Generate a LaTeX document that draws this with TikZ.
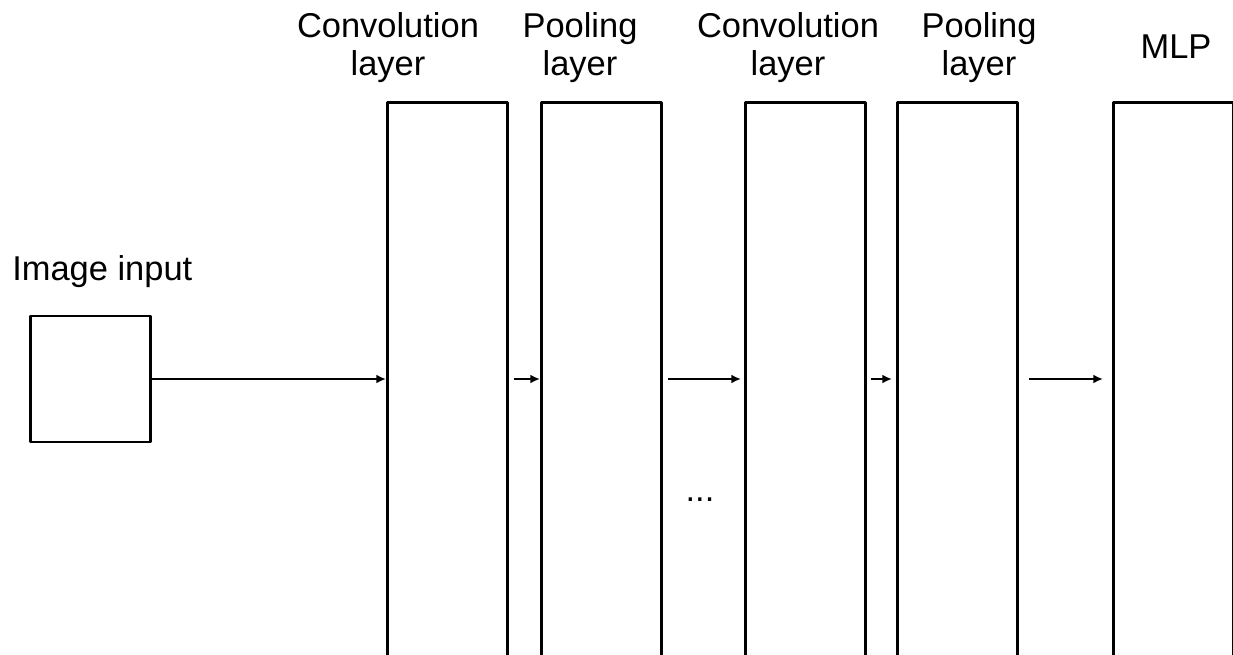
\documentclass[tikz,border=0pt]{standalone}
\usepackage{fontspec}
\setmainfont{Liberation Sans}
\usetikzlibrary{arrows.meta, positioning}

\tikzset{
  layerbox/.style={draw, line width=2pt, inner sep=0pt, anchor=north west,
    minimum width=3cm, minimum height=15cm},
  inputbox/.style={draw, line width=1.5pt, inner sep=0pt,
    minimum width=3cm, minimum height=3.15cm},
  caption/.style={inner sep=0pt, align=center, anchor=north,
    font=\fontsize{24.5pt}{27pt}\selectfont},
  flow/.style={line width=1.5pt, -{Latex[length=0.24cm, width=0.22cm]}}
}

\begin{document}
\begin{tikzpicture}[line join=round, x=0.025cm, y=-0.025cm]
  \clip (0,0) rectangle (1233,655);   % page frame, boxes run off the bottom

  % input
  \node[inputbox] (input) at (90.5,379) {};
  \node[caption, anchor=north west] (lblinput) at (12,255) {Image input};

  % layers
  \node[layerbox] (conv1) at (386,101) {};
  \node[layerbox] (pool1) at (540,101) {};
  \node[layerbox] (conv2) at (744,101) {};
  \node[layerbox] (pool2) at (896,101) {};
  \node[layerbox] (mlp) at (1112,101) {};

  \node[caption] (lblconv1) at (388,12) {Convolution\\layer};
  \node[caption] (lblpool1) at (580,12) {Pooling\\layer};
  \node[caption] (lblconv2) at (788,12) {Convolution\\layer};
  \node[caption] (lblpool2) at (979,12) {Pooling\\layer};
  \node[caption] (lblmlp) at (1176,35) {MLP};

  \node[caption, anchor=center] (dots) at (700,500) {...};

  % connectors
  \draw[flow] (input.east) -- (conv1.west |- input.east);
  \draw[flow, shorten <=0.125cm] (conv1.east |- input.east) -- (pool1.west |- input.east);
  \draw[flow, shorten <=0.125cm, shorten >=0.075cm] (pool1.east |- input.east) -- (conv2.west |- input.east);
  \draw[flow, shorten <=0.1cm, shorten >=0.1cm] (conv2.east |- input.east) -- (pool2.west |- input.east);
  \draw[flow, shorten <=0.25cm, shorten >=0.225cm] (pool2.east |- input.east) -- (mlp.west |- input.east);
\end{tikzpicture}
\end{document}
